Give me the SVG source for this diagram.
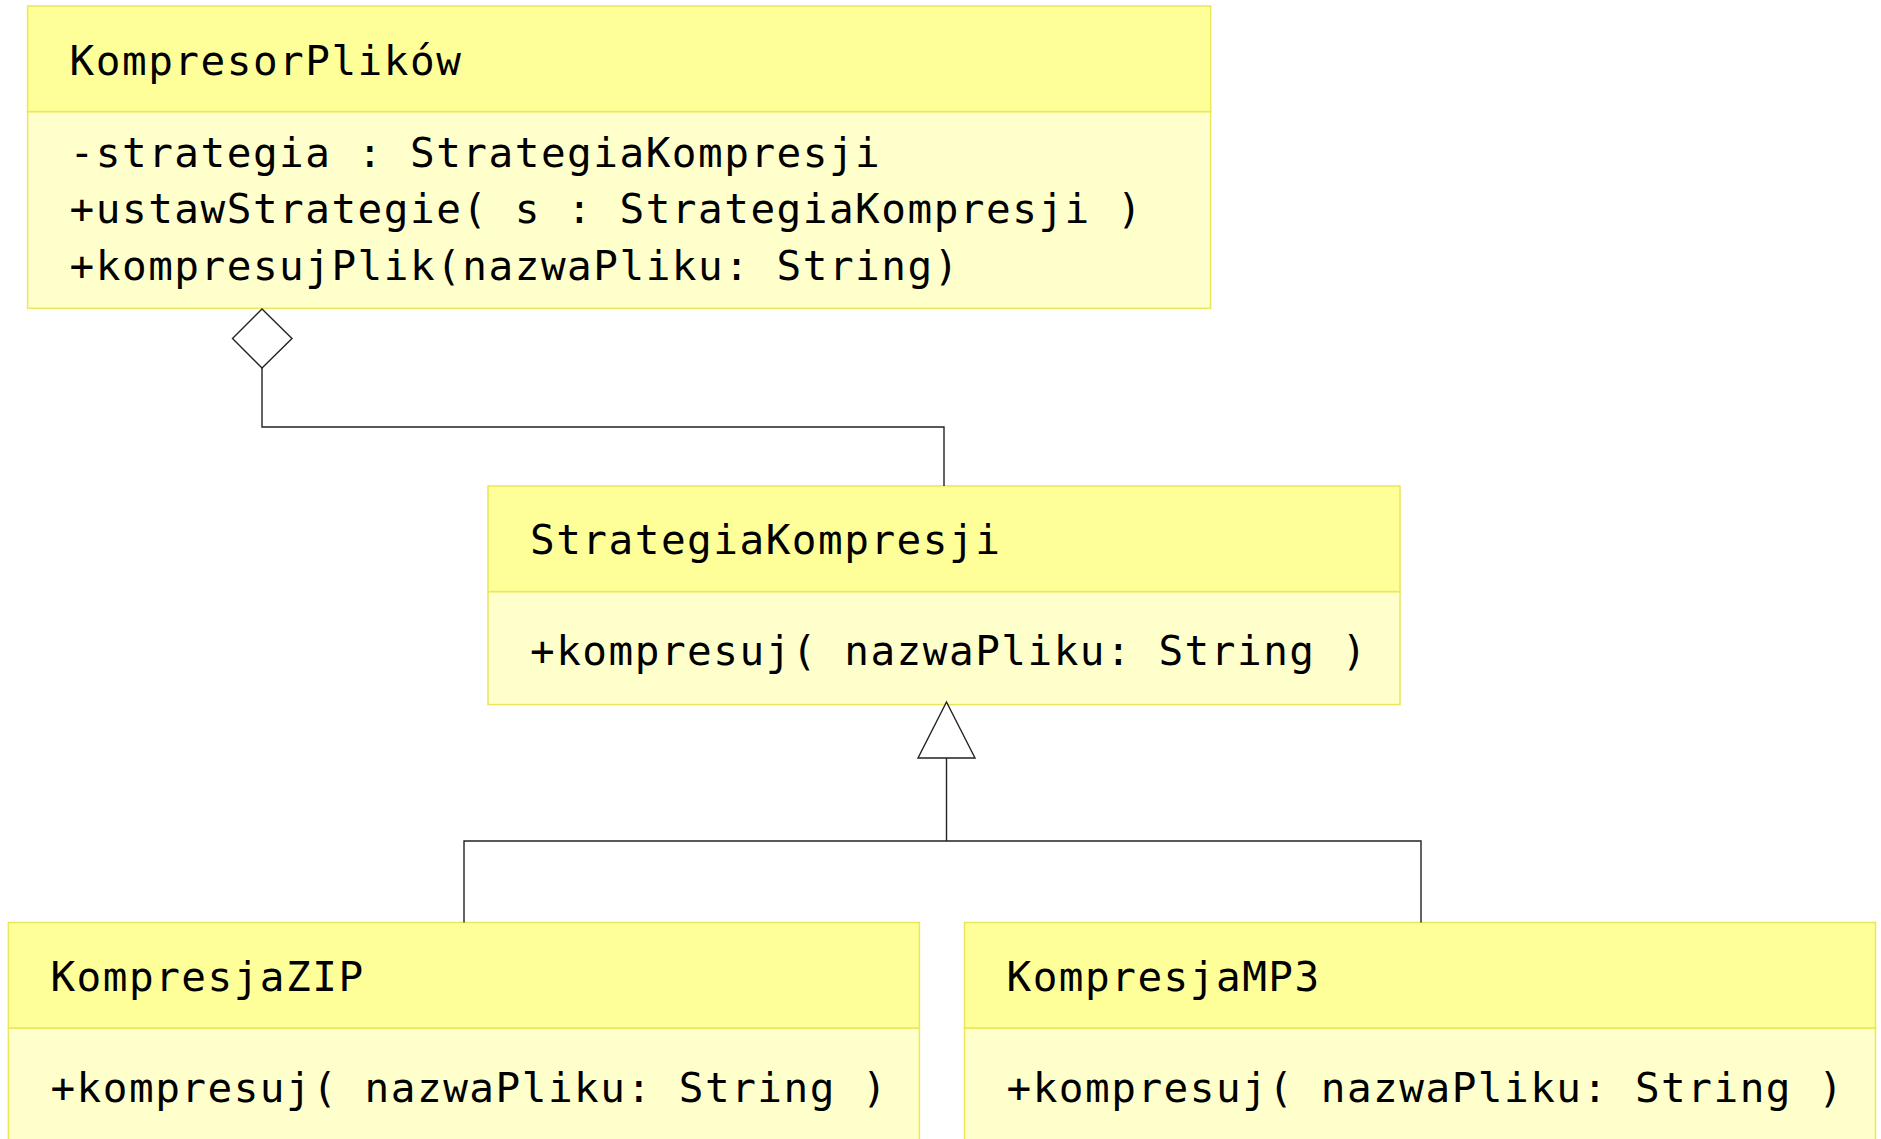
<svg xmlns="http://www.w3.org/2000/svg" width="1881" height="1139" viewBox="0 0 1881 1139">
  <style>
    .hdr { fill: #FFFF99; stroke: #E8E85A; stroke-width: 1.5; }
    .body { fill: #FFFFCC; stroke: #E8E85A; stroke-width: 1.5; }
    .txt { font-family: "DejaVu Sans Mono", "Liberation Mono", monospace; font-size: 41px; letter-spacing: 1.5px; fill: #000; }
    .edge { fill: none; stroke: #222; stroke-width: 1.4; }
    .head { fill: #fff; stroke: #222; stroke-width: 1.4; }
  </style>
  <rect width="1881" height="1139" fill="#fff"/>

  <!-- KompresorPlików -->
  <g id="kompresor-plikow">
    <rect class="body" x="27.6" y="111.6" width="1183" height="196.7"/>
    <rect class="hdr" x="27.6" y="6" width="1183" height="105.6"/>
    <text class="txt" x="69.6" y="75">KompresorPlików</text>
    <text class="txt" x="69.6" y="166.5">-strategia : StrategiaKompresji</text>
    <text class="txt" x="69.6" y="223">+ustawStrategie( s : StrategiaKompresji )</text>
    <text class="txt" x="69.6" y="280">+kompresujPlik(nazwaPliku: String)</text>
  </g>

  <!-- StrategiaKompresji -->
  <g id="strategia-kompresji">
    <rect class="body" x="488" y="591.6" width="912" height="113"/>
    <rect class="hdr" x="488" y="486" width="912" height="105.6"/>
    <text class="txt" x="530" y="554">StrategiaKompresji</text>
    <text class="txt" x="530" y="665">+kompresuj( nazwaPliku: String )</text>
  </g>

  <!-- KompresjaZIP -->
  <g id="kompresja-zip">
    <rect class="body" x="8.4" y="1028" width="911" height="130"/>
    <rect class="hdr" x="8.4" y="922.5" width="911" height="105.5"/>
    <text class="txt" x="50.4" y="991">KompresjaZIP</text>
    <text class="txt" x="50.4" y="1102">+kompresuj( nazwaPliku: String )</text>
  </g>

  <!-- KompresjaMP3 -->
  <g id="kompresja-mp3">
    <rect class="body" x="964.5" y="1028" width="911" height="130"/>
    <rect class="hdr" x="964.5" y="922.5" width="911" height="105.5"/>
    <text class="txt" x="1006.5" y="991">KompresjaMP3</text>
    <text class="txt" x="1006.5" y="1102">+kompresuj( nazwaPliku: String )</text>
  </g>

  <!-- connectors -->
  <g id="connectors">
    <!-- aggregation: KompresorPlików holds StrategiaKompresji -->
    <path class="edge" d="M262,368 V427 H944 V486"/>
    <polygon class="head" points="262,309 292,338.5 262,368 232.5,338.5"/>
    <!-- generalization: ZIP and MP3 implement StrategiaKompresji -->
    <path class="edge" d="M946.5,758 V841"/>
    <path class="edge" d="M464,922.5 V841 H1421 V922.5"/>
    <polygon class="head" points="946.5,702 975,758 918,758"/>
  </g>
</svg>
